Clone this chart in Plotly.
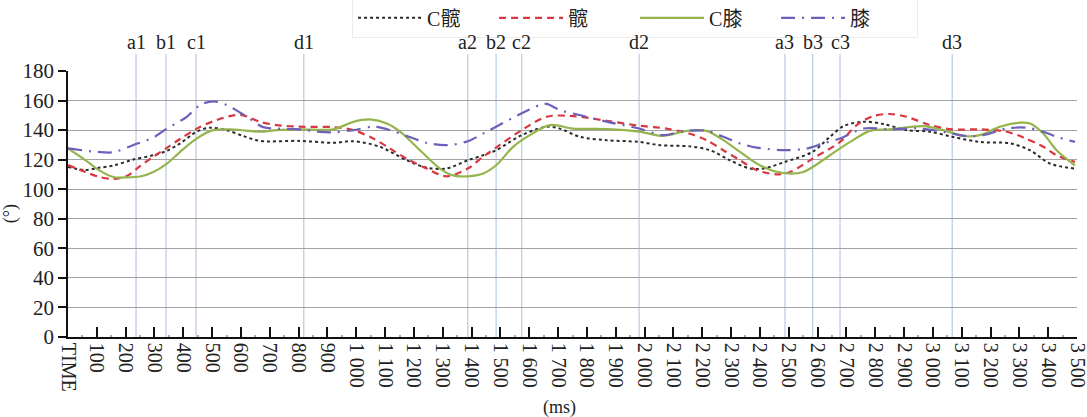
import plotly.graph_objects as go

# Joint angle curves over one trial (time in ms, angle in degrees)
t_c_hip = [0, 60, 107, 157, 225, 296, 343, 389, 447, 493, 550, 608, 666, 804, 920, 990,
           1082, 1175, 1244, 1313, 1387, 1440, 1485, 1574, 1660, 1706, 1775, 1868, 1981,
           2053, 2157, 2227, 2296, 2366, 2412, 2487, 2583, 2643, 2690, 2759, 2828, 2909,
           2990, 3067, 3163, 3268, 3337, 3406, 3493]
v_c_hip = [115, 113, 114.5, 116, 120, 123, 126, 131, 139, 141.6, 140, 136, 132.7, 132.7, 131.4, 132.5,
           128.7, 119.6, 114.6, 114, 119.6, 123, 126.4, 136.6, 142.3, 141, 135.5, 133.2, 132,
           129.8, 129, 126.4, 119.6, 114, 114, 118.5, 125.3, 135.5, 142.7, 145.7, 144.1, 140,
           138.9, 135.5, 132, 131, 126.4, 117.4, 114]

t_hip = [0, 60, 107, 157, 204, 250, 296, 343, 389, 447, 504, 574, 608, 666, 724, 804, 920, 990,
         1059, 1117, 1175, 1244, 1313, 1387, 1440, 1485, 1574, 1660, 1752, 1868, 1981, 2076,
         2157, 2215, 2273, 2331, 2389, 2458, 2505, 2583, 2678, 2736, 2793, 2851, 2909, 2990,
         3067, 3163, 3256, 3314, 3383, 3429, 3493]
v_hip = [116.3, 111.7, 108.4, 107, 109, 115.6, 122, 128, 134, 141, 146, 150, 150, 145.6, 143.4, 142.3, 142, 140,
         134.3, 127.5, 120.7, 114, 108.7, 114, 122, 128.2, 140, 149, 149.5, 146.3, 143, 141,
         137.5, 133.2, 126.4, 119.6, 112.9, 110.1, 111.7, 120.7, 132, 143.4, 149.5, 150.9, 149, 143.4,
         140.5, 140.5, 138.9, 135, 128.7, 123, 118.5]

t_c_knee = [0, 60, 107, 157, 204, 250, 296, 343, 389, 447, 504, 574, 666, 724, 804, 920, 990,
            1048, 1106, 1152, 1221, 1290, 1336, 1387, 1440, 1485, 1544, 1602, 1672, 1752, 1868,
            1981, 2064, 2146, 2215, 2273, 2331, 2389, 2447, 2505, 2551, 2583, 2643, 2713, 2782,
            2851, 2967, 3036, 3105, 3163, 3233, 3302, 3337, 3383, 3429, 3493]
v_c_knee = [127.6, 119.7, 112.9, 108.3, 108, 108.6, 111.7, 117.4, 125.3, 134.4, 140, 140.4, 138.9, 140, 140.5, 140.5, 145.6,
            147.2, 144.5, 139, 126.4, 114, 109.4, 108.7, 110.6, 116.2, 128.7, 136.6, 143.4, 141, 140.7,
            139, 136, 139.5, 139.5, 133.2, 125.3, 117.4, 112.3, 110.6, 111.7, 115, 123, 132, 139.5,
            140.5, 142.7, 140, 136, 136.6, 142.3, 145, 144.5, 137.7, 126.4, 116.2]

t_knee = [0, 100, 157, 225, 296, 343, 412, 458, 504, 550, 620, 677, 724, 804, 862, 920, 990,
          1059, 1117, 1175, 1244, 1313, 1387, 1440, 1485, 1574, 1637, 1660, 1706, 1775, 1868,
          1981, 2064, 2134, 2215, 2273, 2331, 2389, 2487, 2562, 2620, 2678, 2759, 2851, 2944,
          3036, 3117, 3175, 3256, 3325, 3383, 3429, 3493]
v_knee = [127.6, 125.3, 125, 129.8, 135, 141, 149, 157, 159.5, 157, 149, 142, 141, 140.5, 139, 138.5, 140,
          142.3, 140, 136, 131.4, 129.8, 132.5, 137.7, 142.3, 151.4, 157, 157.7, 153.6, 150.2, 145.7,
          141.1, 136.6, 139.3, 139.5, 135.5, 131, 128.2, 126.4, 127.5, 131, 134.3, 141.1, 140.5, 141.1,
          138.9, 136, 136.6, 141.1, 141.6, 138.9, 135.5, 132]

# Gait event markers
event_times = [236, 340, 444, 818, 1387, 1485, 1574, 1981, 2487, 2583, 2678, 3067]
event_labels = ["a1", "b1", "c1", "d1", "a2", "b2", "c2", "d2", "a3", "b3", "c3", "d3"]

# x tick values and labels
x_ticks = list(range(0, 3501, 100))
x_tick_text = ["TIME"] + [f"{v:,}".replace(",", " ") for v in x_ticks[1:]]
y_ticks = list(range(0, 181, 20))

SERIF = "Liberation Serif, Noto Sans CJK SC, serif"

fig = go.Figure()
series = [
    (t_c_hip, v_c_hip, "C髋", "#2b2b2b", "dot", 2),
    (t_hip, v_hip, "髋", "#d8383f", "7px,5px", 2.2),
    (t_c_knee, v_c_knee, "C膝", "#93b54c", "solid", 2.2),
    (t_knee, v_knee, "膝", "#6e5fb8", "14px,7px,2px,7px", 2.2),
]
for t, v, name, color, dash, w in series:
    fig.add_trace(go.Scatter(
        x=t, y=v, name=name, mode="lines",
        line=dict(color=color, dash=dash, width=w, shape="spline", smoothing=0.9),
    ))

for t, lab in zip(event_times, event_labels):
    fig.add_shape(type="line", xref="x", yref="paper", x0=t, x1=t, y0=0, y1=1.064,
                  line=dict(color="#a9bfd8", width=1), layer="below")
    fig.add_annotation(x=t, y=1.109, xref="x", yref="paper", text=lab, showarrow=False,
                       font=dict(family=SERIF, size=20, color="#222"), yanchor="middle")

fig.add_annotation(x=-0.0575, y=0.465, xref="paper", yref="paper", text="(°)", textangle=-90,
                   showarrow=False, xanchor="center", yanchor="middle",
                   font=dict(family=SERIF, size=18, color="#222"))
fig.add_annotation(x=0.4876, y=-0.2655, xref="paper", yref="paper", text="(ms)",
                   showarrow=False, xanchor="center", yanchor="middle",
                   font=dict(family=SERIF, size=18, color="#222"))

fig.update_layout(
    width=1087, height=417,
    margin=dict(l=68, r=10, t=71, b=80, autoexpand=False),
    paper_bgcolor="white", plot_bgcolor="white",
    font=dict(family=SERIF, color="#222"),
    legend=dict(orientation="h", x=0.562, y=1.2, xanchor="center", yanchor="middle",
                font=dict(family=SERIF, size=20, color="#222"),
                bgcolor="white", bordercolor="#ececec", borderwidth=1,
                itemwidth=64, entrywidth=62, tracegroupgap=0),
    xaxis=dict(range=[0, 3500], tickvals=x_ticks, ticktext=x_tick_text, tickangle=90,
               tickfont=dict(family=SERIF, size=20, color="#222"), ticklabeloverflow="allow",
               ticks="inside", ticklen=10, tickwidth=1.5, tickcolor="#111",
               showline=True, linecolor="#111", linewidth=1.5, showgrid=False, zeroline=False,
               minor=dict(dtick=50, ticks="inside", ticklen=2, tickcolor="#aaa", showgrid=False)),
    yaxis=dict(range=[0, 180], tickvals=y_ticks, tickfont=dict(family=SERIF, size=21, color="#222"),
               ticks="outside", ticklen=8, tickwidth=1.5, tickcolor="#111",
               showline=True, linecolor="#111", linewidth=1.5,
               showgrid=True, gridcolor="#a3a3a3", gridwidth=1, zeroline=False),
)

fig.write_html("out.html")
